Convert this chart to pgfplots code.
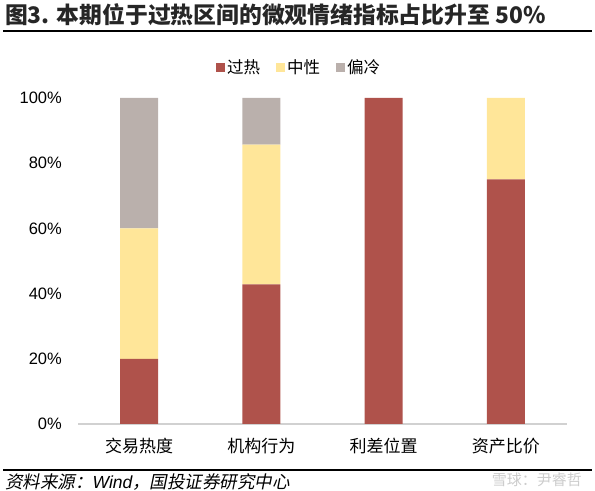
\documentclass[border=0pt]{standalone}
\usepackage{fontspec}
\usepackage{pgfplots}
\pgfplotsset{compat=1.18}
\setmainfont{Liberation Sans}
\newfontfamily\cjk{Noto Sans CJK SC}
\newfontfamily\cjkit{Noto Sans CJK SC}[FakeSlant=0.2]
\definecolor{hot}{HTML}{AF524B}
\definecolor{mid}{HTML}{FFE699}
\definecolor{cold}{HTML}{BAB0AC}
\begin{document}
\begin{tikzpicture}
\path[use as bounding box] (0bp,0bp) rectangle (595bp,491bp);
\node[anchor=west, inner sep=0pt, text=black!85] at (5bp,476bp)
  {\cjk\bfseries\fontsize{22.8bp}{25bp}\selectfont 图3. 本期位于过热区间的微观情绪指标占比升至 50\%};
\draw[line width=2.5bp] (3bp,460bp) -- (592bp,460bp);
\begin{axis}[
  at={(78bp,67bp)}, anchor=south west,
  scale only axis, width=489bp, height=326bp,
  ybar stacked, bar width=38bp,
  xmin=-0.5, xmax=3.5, ymin=0, ymax=100,
  xtick={0,1,2,3},
  xticklabels={交易热度,机构行为,利差位置,资产比价},
  ytick={0,20,40,60,80,100},
  yticklabel={\pgfmathprintnumber{\tick}\%},
  /pgf/number format/assume math mode=true,
  axis x line*=bottom, axis y line*=left,
  y axis line style={draw=none},
  x axis line style={draw=black!18, line width=1.2bp},
  major tick length=0pt,
  tick label style={font=\fontsize{16.5bp}{18bp}\selectfont},
  yticklabel style={inner sep=0pt, xshift=-16bp},
  xticklabel style={inner sep=0pt, yshift=-14bp, font=\cjk\fontsize{17bp}{18bp}\selectfont},
  legend style={at={(0.452,1.095)}, anchor=center, draw=none, fill=none,
    legend columns=-1, font=\cjk\fontsize{16.5bp}{18bp}\selectfont,
    /tikz/every even column/.append style={column sep=14bp},
    inner sep=0pt},
  legend image code/.code={\fill[#1] (0bp,-4.5bp) rectangle (9bp,4.5bp);},
]
\addplot[fill=hot, draw=none] coordinates {(0,20) (1,42.86) (2,100) (3,75)};
\addplot[fill=mid, draw=none] coordinates {(0,40) (1,42.86) (2,0) (3,25)};
\addplot[fill=cold, draw=none] coordinates {(0,40) (1,14.28) (2,0) (3,0)};
\legend{过热,中性,偏冷}
\end{axis}
\draw[line width=2bp] (3bp,21bp) -- (592bp,21bp);
\node[anchor=west, inner sep=0pt] at (5bp,9bp)
  {\fontsize{17.5bp}{19bp}\selectfont\cjkit 资料来源：{\itshape\rmfamily Wind}，国投证券研究中心};
\node[anchor=east, inner sep=0pt, text=black!20] at (582bp,11bp)
  {\cjk\fontsize{15bp}{18bp}\selectfont 雪球：尹睿哲};
\end{tikzpicture}
\end{document}
